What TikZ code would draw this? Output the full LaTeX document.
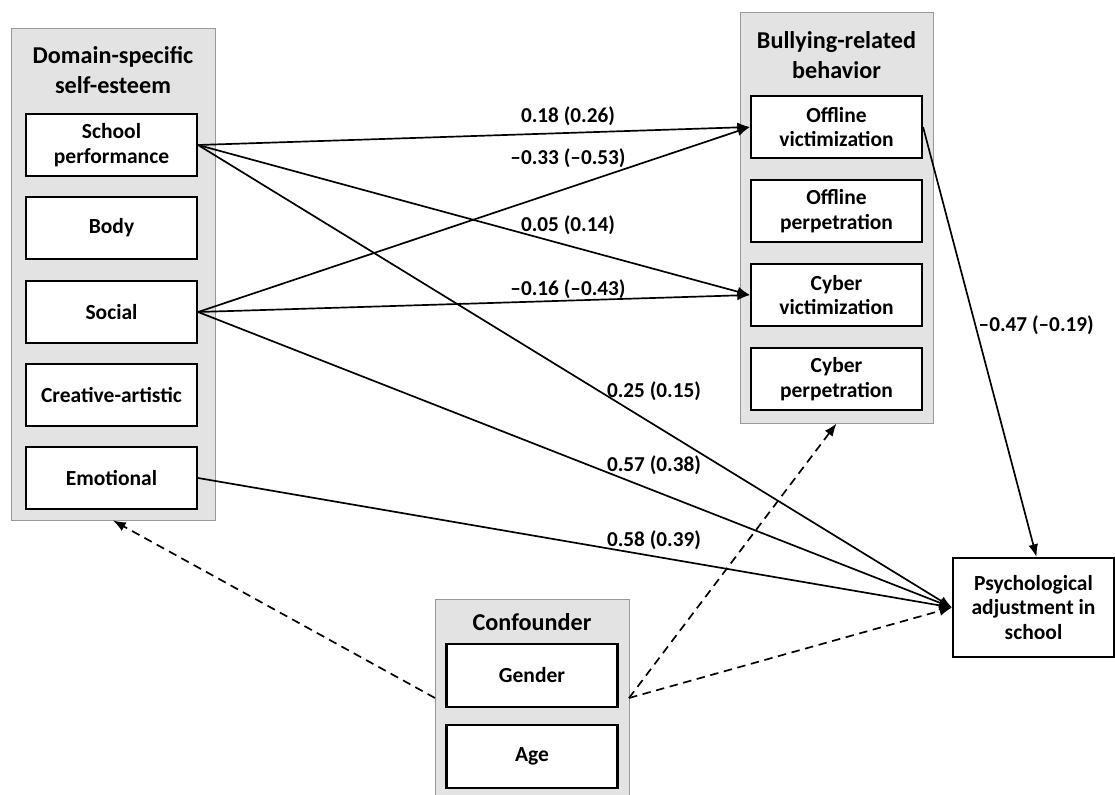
\documentclass[tikz,border=0pt]{standalone}
\usepackage{fontspec}
\setmainfont{Carlito}
\usepackage{tikz}
\usetikzlibrary{arrows.meta}
\usetikzlibrary{positioning}

\begin{document}
\begin{tikzpicture}[x=0.025cm,y=-0.025cm,
                    group box/.style={draw=black!40,fill=black!11,line width=0.7pt,inner sep=0pt},
                    group title/.style={align=center,font=\fontsize{17.2}{21.3}\selectfont\bfseries},
                    var box/.style={draw,fill=white,line width=1.5pt,minimum width=171*0.025cm,
                        minimum height=62*0.025cm,align=center,inner sep=2pt,
                        font=\fontsize{15.3}{17.7}\selectfont\bfseries},
                    my path/.style={line width=1.2pt,-{Latex[length=9pt,width=7pt]}},
                    my confound/.style={my path,dash pattern=on 6pt off 4pt},
                    my coef/.style={font=\fontsize{15.1}{17}\selectfont\bfseries,inner sep=1pt}]
\useasboundingbox (0,0) rectangle (1115,794);
% grey group boxes
\node[group box,minimum width=204*0.025cm,minimum height=492*0.025cm] (dse) at (113,274) {};
\node[group box,minimum width=193*0.025cm,minimum height=411*0.025cm] (brb) at (836.5,217.5) {};
\node[group box,minimum width=194*0.025cm,minimum height=198*0.025cm] (conf) at (532,698) {};
\node[group title] (dse-t) at (113,70) {Domain-specific\\self-esteem};
\node[group title] (brb-t) at (836.5,55) {Bullying-related\\behavior};
\node[group title] (conf-t) at (532,622) {Confounder};
% self-esteem domains
\node[var box] (school) at (111.5,145) {School\\performance};
\node[var box] (body) at (111.5,228) {Body};
\node[var box] (social) at (111.5,312) {Social};
\node[var box] (creative) at (111.5,395) {Creative-artistic};
\node[var box] (emo) at (111.5,478) {Emotional};
% bullying
\node[var box] (offvic) at (836.5,127) {Offline\\victimization};
\node[var box] (offper) at (836.5,211) {Offline\\perpetration};
\node[var box] (cybvic) at (836.5,295) {Cyber\\victimization};
\node[var box] (cybper) at (836.5,379) {Cyber\\perpetration};
% confounders
\node[var box,minimum height=63*0.025cm] (gender) at (532,675.5) {Gender};
\node[var box,minimum height=63*0.025cm] (age) at (532,756.5) {Age};
% outcome
\node[var box,minimum width=161*0.025cm,minimum height=99*0.025cm] (psych) at (1033.5,607.5) {Psychological\\adjustment in\\school};
% paths
\draw[my path] (school.east) -- (offvic.west);
\draw[my path] (social.east) -- (offvic.west);
\draw[my path] (school.east) -- (cybvic.west);
\draw[my path] (social.east) -- (cybvic.west);
\draw[my path] (school.east) -- (psych.west);
\draw[my path] (social.east) -- (psych.west);
\draw[my path] (emo.east) -- (psych.west);
\draw[my path] (offvic.east) -- ([xshift=3*0.025cm]psych.north);
\node[my coef] (c1) at (568,116) {0.18 (0.26)};
\node[my coef] (c2) at (568,158) {--0.33 (--0.53)};
\node[my coef] (c3) at (568,225) {0.05 (0.14)};
\node[my coef] (c4) at (568,289) {--0.16 (--0.43)};
\node[my coef] (c5) at (654,391) {0.25 (0.15)};
\node[my coef] (c6) at (654,465) {0.57 (0.38)};
\node[my coef] (c7) at (654,540) {0.58 (0.39)};
\node[my coef,anchor=west] (c8) at (977,325) {--0.47 (--0.19)};
% confounder paths
\coordinate (conf-l) at (435,698); % left edge of confounder box
\coordinate (conf-r) at (629,698); % right edge of confounder box
\draw[my confound] (conf-l) -- (dse.south);
\draw[my confound] (conf-r) -- (brb.south);
\draw[my confound] (conf-r) -- (psych.west);
\end{tikzpicture}
\end{document}
